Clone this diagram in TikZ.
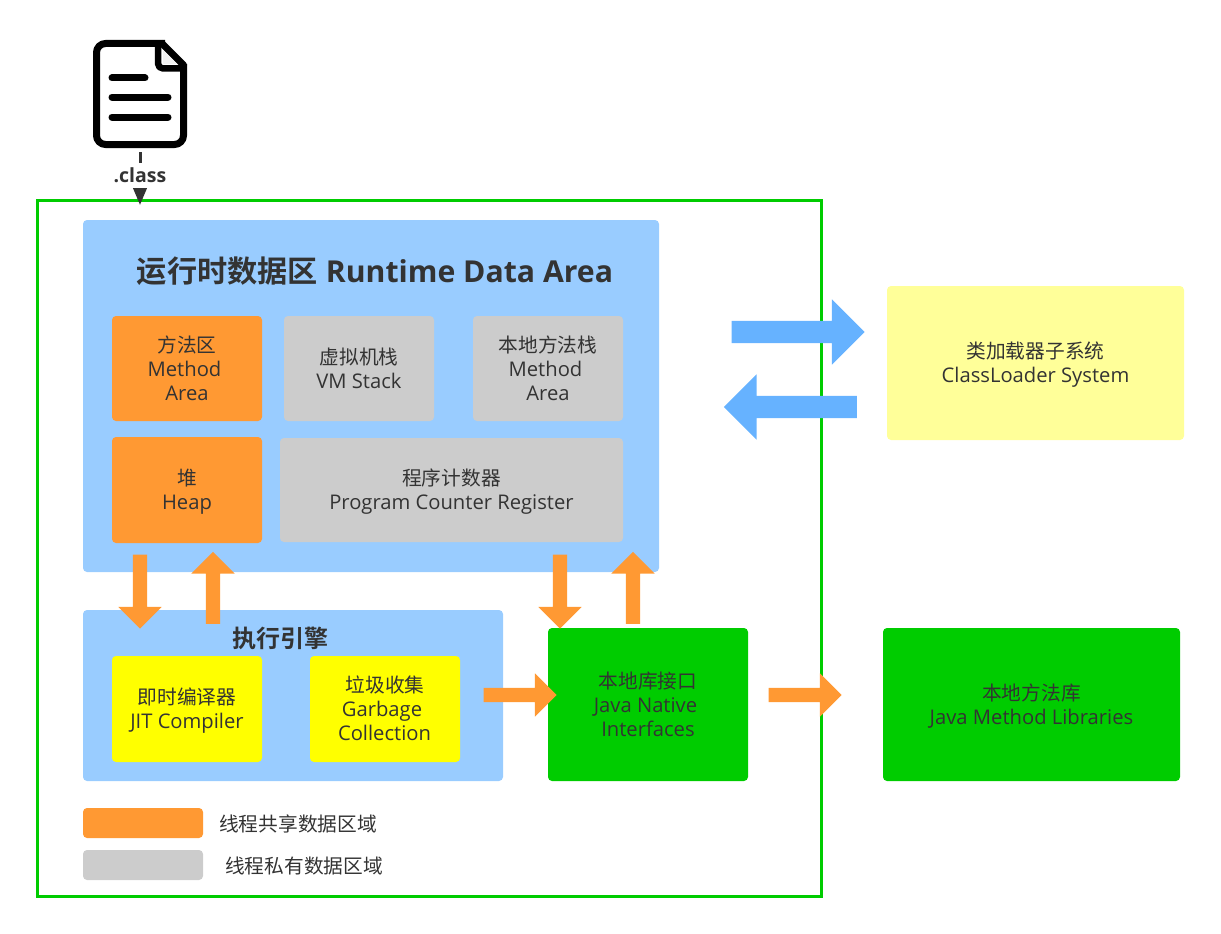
\documentclass[tikz,border=0pt]{standalone}
\usepackage{fontspec}
\setmainfont{Open Sans}
\newfontfamily\cjk[Scale=0.975]{Noto Sans CJK SC}
\newfontfamily\cjkb[Scale=1.0,BoldFont={Noto Sans CJK SC Bold}]{Noto Sans CJK SC}
\usetikzlibrary{shapes.arrows,arrows.meta}
\definecolor{txt}{HTML}{333333}
\definecolor{skyb}{HTML}{99CCFF}
\definecolor{orng}{HTML}{FF9933}
\definecolor{gry}{HTML}{CCCCCC}
\definecolor{yel}{HTML}{FFFF00}
\definecolor{paley}{HTML}{FFFF99}
\definecolor{grn}{HTML}{00CC00}
\definecolor{bluar}{HTML}{66B2FF}
\newcommand{\rpad}[1]{\rule{#1}{0pt}}
\newcommand{\zh}[1]{\rule{0pt}{22.2pt}\smash{\cjk #1}}
\newcommand{\dep}{\rule[-7.2pt]{0pt}{7.2pt}}
\tikzset{
  x=1pt,y=-1pt,
  panel/.style={rounded corners=4pt,inner sep=0pt},
  box/.style={panel,align=center,text=txt,
    font=\fontsize{20.2}{24}\selectfont},
  lbl/.style={inner sep=0pt,align=center,text=txt,font=\fontsize{20.2}{24}\selectfont},
  barrow/.style={single arrow,inner sep=0pt,anchor=center,single arrow head extend=#1},
  orangearrow/.style={barrow=14.5pt,fill=orng,inner ysep=7pt,minimum width=43pt,minimum height=#1},
  orangearrow/.default=74pt,
  bluearrow/.style={barrow=21.5pt,fill=bluar,inner ysep=11pt,minimum width=65pt,minimum height=133pt},
  iconline/.style={line width=7pt,line cap=round,black},
}
\begin{document}
\begin{tikzpicture}
\useasboundingbox (0,0) rectangle (1221,934);
% outer frame
\node[draw=grn,line width=3pt,minimum width=784pt,minimum height=696pt,inner sep=0pt] (jvm) at (429,548) {};
% file icon
\draw[line width=7pt,black,line join=round,rounded corners=9pt] (165,43.5) -- (96.5,43.5) -- (96.5,144.5) -- (183.5,144.5) -- (183.5,64);
\draw[line width=7pt,black,line join=round,line cap=round] (162,43.5) -- (183.5,65);
\draw[line width=6.5pt,black,line join=round,rounded corners=5pt] (158,45) -- (158,68.5) -- (181,68.5);
\fill[white!90!gray] (163,50) -- (177,64) -- (163,64) -- cycle;
\draw[iconline] (112,78) -- (145,78);
\draw[iconline] (112,97) -- (168,97);
\draw[iconline] (112,117) -- (168,117);
\coordinate (iconbottom) at (140,152);
\coordinate (classin) at (140,205);
\draw[line width=3pt,txt,-{Triangle[width=15pt,length=19pt]}] (iconbottom) -- (classin);
\node[lbl,fill=white,font=\fontsize{19.5}{22}\selectfont\bfseries,minimum width=54pt,minimum height=25pt] (classlabel) at (140,175) {.class};
% runtime data area
\node[panel,fill=skyb,minimum width=576pt,minimum height=352pt] (rda) at (371,396) {};
\node[lbl,font=\fontsize{30.2}{34}\selectfont\bfseries] (rdatitle) at (375,271) {{\cjkb 运行时数据区} Runtime Data Area};
\node[box,fill=orng,minimum width=150pt,minimum height=105pt] (method) at (187,368.5) {\zh{方法区}\\Method\rpad{5pt}\\Area\dep};
\node[box,fill=gry,minimum width=150pt,minimum height=105pt] (vmstack) at (359,368.5) {\zh{虚拟机栈}\\VM Stack\dep};
\node[box,fill=gry,minimum width=150pt,minimum height=105pt] (native) at (548,368.5) {\zh{本地方法栈}\\Method\rpad{5pt}\\Area\dep};
\node[box,fill=orng,minimum width=150pt,minimum height=106pt] (heap) at (187,490) {\zh{堆}\\Heap\dep};
\node[box,fill=gry,minimum width=343pt,minimum height=104pt] (pcr) at (451.5,490) {\zh{程序计数器}\\Program Counter Register\dep};
% execution engine
\node[panel,fill=skyb,minimum width=420pt,minimum height=171pt] (engine) at (293,695.5) {};
\node[lbl,font=\fontsize{24}{26}\selectfont\bfseries] (enginetitle) at (280,638) {{\cjkb 执行引擎}};
\node[box,fill=yel,minimum width=150pt,minimum height=106pt] (jit) at (187,709) {\zh{即时编译器}\\JIT Compiler\dep};
\node[box,fill=yel,minimum width=150pt,minimum height=106pt] (gc) at (385,709) {\zh{垃圾收集}\\Garbage\rpad{6pt}\\Collection\rpad{1pt}\dep};
% native interfaces and libraries
\node[box,fill=grn,minimum width=200pt,minimum height=153pt] (jni) at (648,704.5) {\zh{本地库接口}\\Java Native\rpad{5pt}\\Interfaces\dep};
\node[box,fill=grn,minimum width=297pt,minimum height=153pt] (libs) at (1031.5,704.5) {\zh{本地方法库}\\Java Method Libraries\dep};
\node[box,fill=paley,minimum width=297pt,minimum height=154pt] (loader) at (1035.5,363) {\zh{类加载器子系统}\\ClassLoader System\dep};
% block arrows
\node[orangearrow,rotate=-90] (heapdown) at (140,588) {};
\node[orangearrow=72pt,rotate=90] (heapup) at (213,591.5) {};
\node[orangearrow,rotate=-90] (pcrdown) at (560,588) {};
\node[orangearrow=72pt,rotate=90] (pcrup) at (633,591.5) {};
\node[orangearrow=73pt] (toJni) at (516.5,695) {};
\node[orangearrow=73pt] (toLibs) at (801.5,695) {};
\node[bluearrow] (toLoader) at (792.5,332) {};
\node[bluearrow,rotate=180] (fromLoader) at (796,407) {};
% legend
\node[panel,fill=orng,minimum width=120pt,minimum height=30pt] (legendA) at (143,823) {};
\node[panel,fill=gry,minimum width=120pt,minimum height=30pt] (legendB) at (143,865) {};
\node[lbl] (legendAt) at (298,824) {\cjk 线程共享数据区域};
\node[lbl] (legendBt) at (304,866) {\cjk 线程私有数据区域};
\end{tikzpicture}
\end{document}
